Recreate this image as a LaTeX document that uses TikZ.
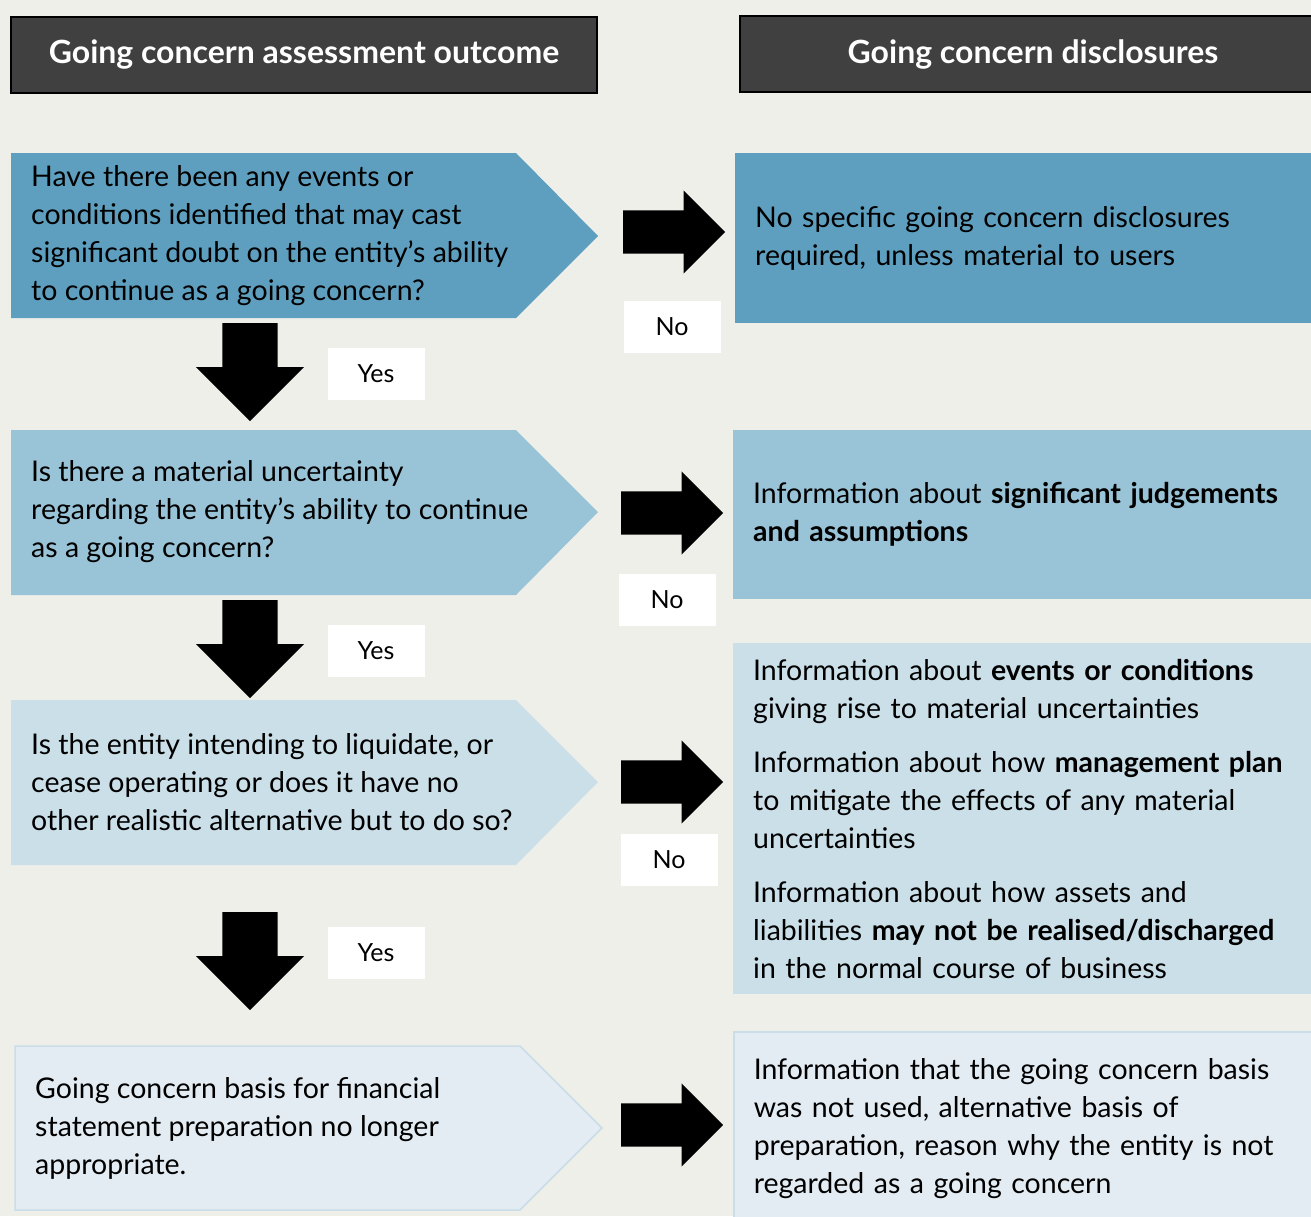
\documentclass[tikz,border=0pt]{standalone}
\usepackage{fontspec}
\setmainfont{Lato}
\usepackage{tikz}
\usetikzlibrary{positioning}
\usetikzlibrary{shapes.arrows}

\definecolor{bgc}{HTML}{EFEFEA}
\definecolor{headc}{HTML}{404040}
\definecolor{lvla}{HTML}{5E9FBF}
\definecolor{lvlb}{HTML}{99C3D6}
\definecolor{lvlc}{HTML}{CBDFE8}
\definecolor{lvld}{HTML}{E3ECF3}
\definecolor{lvldline}{HTML}{CADDE9}

\begin{document}
\begin{tikzpicture}[
  x=1pt, y=-1pt,
  header/.style={draw=black, line width=2pt, fill=headc, text=white,
    font=\fontsize{32}{38}\selectfont\bfseries, minimum height=76pt, inner sep=0pt},
  qtext/.style={anchor=west, align=left, inner sep=0pt,
    font=\fontsize{28.5}{38}\selectfont},
  infobox/.style={anchor=north west, align=left, inner xsep=20pt, inner ysep=0pt,
    text width=545pt, minimum width=585pt, font=\fontsize{28.5}{38}\selectfont},
  answer/.style={fill=white, minimum width=97pt, minimum height=52pt,
    inner sep=0pt, font=\fontsize{25}{30}\selectfont},
  rarrow/.style={single arrow, fill=black, inner xsep=0pt, inner ysep=21.5pt,
    minimum height=102pt, minimum width=83pt, single arrow head extend=20pt,
    single arrow tip angle=90, anchor=tail},
  darrow/.style={rarrow, rotate=-90, inner ysep=27.5pt, minimum height=98pt,
    minimum width=108pt, single arrow head extend=26.5pt}
]
\useasboundingbox (0,0) rectangle (1311,1216);
\fill[bgc] (0,0) rectangle (1311,1216);

% headers
\node[header, minimum width=586pt] (headl) at (304,55) {Going concern assessment outcome};
\node[header, minimum width=586pt] (headr) at (1033,54) {Going concern disclosures};

% assessment questions
\fill[lvla] (11,153) -- (516,153) -- (598,236) -- (516,318) -- (11,318) -- cycle;
\node[qtext] (q1) at (31,236) {Have there been any events or\\conditions identified that may cast\\significant doubt on the entity’s ability\\to continue as a going concern?};

\fill[lvlb] (11,430) -- (516,430) -- (598,512) -- (516,595) -- (11,595) -- cycle;
\node[qtext] (q2) at (31,512) {Is there a material uncertainty\\regarding the entity’s ability to continue\\as a going concern?};

\fill[lvlc] (11,700) -- (516,700) -- (598,782) -- (516,865) -- (11,865) -- cycle;
\node[qtext] (q3) at (31,782) {Is the entity intending to liquidate, or\\cease operating or does it have no\\other realistic alternative but to do so?};

\filldraw[fill=lvld, draw=lvldline, line width=1.5pt] (15,1046) -- (520,1046) -- (602,1128) -- (520,1210) -- (15,1210) -- cycle;
\node[qtext] (q4) at (35,1128) {Going concern basis for financial\\statement preparation no longer\\appropriate.};

% disclosures
\node[infobox, fill=lvla, minimum height=170pt] (d1) at (735,153) {No specific going concern disclosures\\required, unless material to users};
\node[infobox, fill=lvlb, minimum height=169pt] (d2) at (733,430) {Information about \textbf{significant judgements}\\\textbf{and assumptions}};
\node[infobox, fill=lvlc, minimum height=351pt] (d3) at (733,643) {Information about \textbf{events or conditions}\\giving rise to material uncertainties\\[16pt]
Information about how \textbf{management plan}\\to mitigate the effects of any material\\uncertainties\\[16pt]
Information about how assets and\\liabilities \textbf{may not be realised/discharged}\\in the normal course of business};
\node[infobox, fill=lvld, draw=lvldline, line width=1.5pt, minimum height=194pt] (d4) at (733,1031) {Information that the going concern basis\\was not used, alternative basis of\\preparation, reason why the entity is not\\regarded as a going concern};

% no arrows
\node[rarrow] (no1) at (623,232) {};
\node[rarrow] (no2) at (621,513) {};
\node[rarrow] (no3) at (621,782) {};
\node[rarrow] (no4) at (621,1125) {};

% yes arrows
\node[darrow] (yes1) at (250,323) {};
\node[darrow] (yes2) at (250,600) {};
\node[darrow] (yes3) at (250,912) {};

% answers
\node[answer] (nolab1) at (672,327) {No};
\node[answer] (nolab2) at (667,600) {No};
\node[answer] (nolab3) at (669,860) {No};
\node[answer] (yeslab1) at (376,374) {Yes};
\node[answer] (yeslab2) at (376,651) {Yes};
\node[answer] (yeslab3) at (376,953) {Yes};

\end{tikzpicture}
\end{document}
